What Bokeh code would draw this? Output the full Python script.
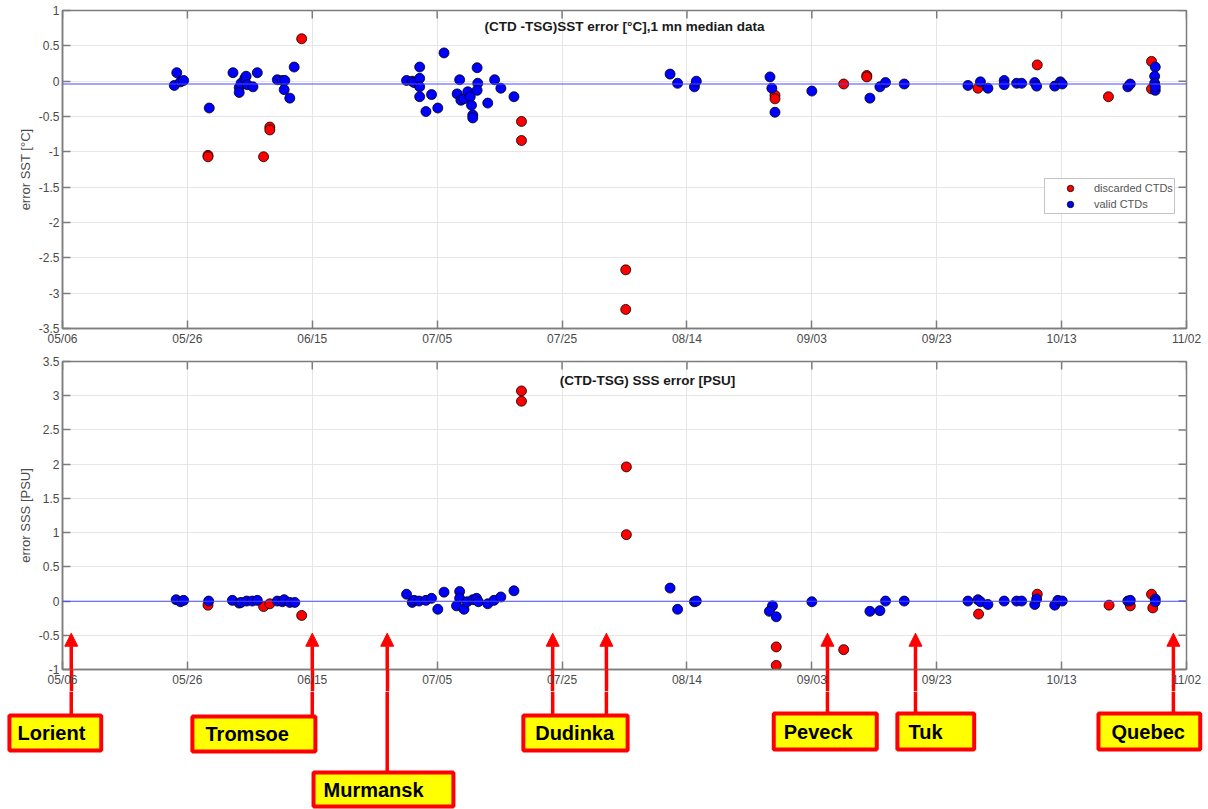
import math
from bokeh.plotting import figure
from bokeh.layouts import column
from bokeh.models import (FixedTicker, PrintfTickFormatter, Span, Label, Arrow,
                          NormalHead, Range1d, Legend, LegendItem)
from bokeh.core.properties import value
from bokeh.embed import file_html
from bokeh.resources import INLINE

# ---------------------------------------------------------------- data
# x axis: days elapsed since 05/06
x_ticks = [0, 20, 40, 60, 80, 100, 120, 140, 160, 180]
x_tick_labels = ["05/06", "05/26", "06/15", "07/05", "07/25",
                 "08/14", "09/03", "09/23", "10/13", "11/02"]

sst_ticks = [-3.5, -3, -2.5, -2, -1.5, -1, -0.5, 0, 0.5, 1]
sss_ticks = [-1, -0.5, 0, 0.5, 1, 1.5, 2, 2.5, 3, 3.5]

# SST error (CTD - TSG), degC
sst_valid_day = [18.3, 17.9, 18.9, 19.4, 23.5, 27.3, 28.3, 28.3, 28.6, 29.2,
                 29.4, 29.6, 30.5, 31.2, 34.4, 35.2, 35.6, 35.5, 36.4, 37.1,
                 55.1, 56.0, 56.3, 57.2, 57.2, 57.2, 57.2, 58.2, 59.1, 60.1,
                 61.1, 63.6, 63.2, 63.8, 64.3, 64.9, 65.3, 65.5, 65.7, 65.7,
                 66.4, 66.5, 66.4, 68.1, 69.2, 70.2, 72.3, 97.3, 98.5, 101.2,
                 101.5, 113.3, 113.6, 114.1, 120.0, 129.3, 130.9, 131.8, 134.8, 145.0,
                 147.0, 148.2, 150.8, 150.8, 152.8, 153.6, 155.7, 156.0, 158.9, 159.8,
                 160.1, 170.6, 171.0, 175.0, 174.9, 174.9, 175.0, 175.0]
sst_valid_err = [0.12, -0.06, -0.01, 0.01, -0.38, 0.12, -0.09, -0.16, -0.03, 0.04,
                 0.07, -0.05, -0.08, 0.12, 0.02, 0.01, 0.01, -0.12, -0.24, 0.20,
                 0.01, 0.00, -0.02, 0.20, 0.04, -0.08, -0.22, -0.43, -0.19, -0.38,
                 0.40, 0.02, -0.18, -0.27, -0.25, -0.15, -0.22, -0.34, -0.48, -0.52,
                 0.19, -0.03, -0.13, -0.31, 0.02, -0.10, -0.22, 0.10, -0.03, -0.08,
                 0.00, 0.06, -0.10, -0.44, -0.14, -0.24, -0.08, -0.02, -0.04, -0.06,
                 -0.01, -0.10, 0.01, -0.05, -0.03, -0.03, -0.02, -0.07, -0.07, -0.01,
                 -0.04, -0.08, -0.04, 0.20, 0.07, -0.03, -0.13, -0.08]
sst_disc_day = [23.3, 23.3, 32.2, 33.2, 33.2, 38.3, 73.5, 73.5, 90.2, 90.2,
                114.1, 114.1, 125.1, 128.8, 128.8, 146.6, 156.1, 167.5, 174.4, 174.4]
sst_disc_err = [-1.05, -1.07, -1.07, -0.65, -0.69, 0.60, -0.57, -0.84, -2.67, -3.23,
                -0.20, -0.25, -0.04, 0.08, 0.06, -0.10, 0.23, -0.22, 0.28, -0.11]

# SSS error (CTD - TSG), PSU
sss_valid_day = [18.2, 18.9, 19.4, 23.4, 27.2, 28.3, 28.6, 29.5, 30.4, 31.2,
                 34.4, 35.2, 35.5, 36.4, 37.2, 55.1, 56.0, 56.3, 57.1, 58.2,
                 59.1, 60.1, 61.1, 63.6, 63.6, 63.1, 64.3, 64.8, 65.7, 66.3,
                 66.6, 68.1, 69.1, 70.2, 72.3, 97.3, 98.5, 101.2, 101.5, 113.7,
                 113.2, 114.3, 120.0, 129.3, 130.9, 131.8, 134.8, 145.0, 146.6, 147.0,
                 148.2, 150.8, 152.8, 153.6, 155.7, 156.0, 158.9, 159.4, 160.1, 170.6,
                 171.0, 175.0, 175.0]
sss_valid_err = [0.02, -0.01, 0.01, 0.00, 0.01, -0.03, -0.02, 0.00, 0.00, 0.01,
                 0.00, -0.01, 0.02, -0.02, -0.02, 0.10, -0.02, 0.01, 0.00, 0.01,
                 0.04, -0.12, 0.13, 0.14, 0.04, -0.07, -0.12, -0.01, 0.02, 0.04,
                 -0.01, -0.04, 0.01, 0.06, 0.15, 0.19, -0.12, -0.01, 0.00, -0.07,
                 -0.15, -0.23, -0.01, -0.15, -0.14, 0.00, 0.00, 0.00, 0.02, -0.01,
                 -0.05, 0.00, 0.00, 0.00, -0.05, 0.03, -0.06, 0.01, 0.00, 0.00,
                 0.01, 0.03, -0.01]
sss_disc_day = [23.3, 32.2, 33.2, 38.3, 73.5, 73.5, 90.3, 90.3, 114.3, 114.3,
                125.1, 146.7, 156.1, 167.6, 171.0, 174.4, 174.6]
sss_disc_err = [-0.06, -0.08, -0.04, -0.21, 3.07, 2.92, 1.96, 0.97, -0.67, -0.94,
                -0.71, -0.19, 0.10, -0.06, -0.07, 0.10, -0.10]

# mean offsets drawn as reference lines
sst_mean = -0.04
sss_mean = -0.003

# port calls (days since 05/06)
ports = ["Lorient", "Tromsoe", "Murmansk", "Dudinka", "Peveck", "Tuk", "Quebec"]
port_days = [[1.4], [40.0], [52.0], [78.5, 87.1], [122.5], [136.6], [177.9]]

# ---------------------------------------------------------------- page geometry / styling
W = 1208
B_LEFT, B_RIGHT = 62, 22
PX_PER_DAY = (W - B_LEFT - B_RIGHT) / 180.0
H_TOP, H_MID, H_TAGS = 350, 341, 118
LABEL_ROW = 22            # height of the date labels under the SSS box

# tag boxes (x in days, y in pixels below the date labels)
tag_x0 = [-8.5, 20.8, 40.2, 73.8, 113.9, 133.7, 165.9]
tag_x1 = [6.2, 40.5, 62.6, 90.5, 130.4, 146.0, 182.2]
tag_y0 = [24, 25, 81, 24, 22, 22, 22]
tag_y1 = [59, 60, 115, 59, 58, 58, 58]
tag_tx = [-7.2, 22.9, 41.8, 75.7, 115.5, 135.5, 168.0]
arrow_tip = -0.47

FONT = "Liberation Sans"
AXC = "#7d7d7d"
TXT = "#4a4a4a"
GRID = "#e6e6e6"
RED = "#ff0000"


def make_panel(y_lo, y_hi, y_ticks, ylabel, height, b_top, b_bottom):
    p = figure(width=W, height=height, x_range=Range1d(0, 180),
               y_range=Range1d(y_lo, y_hi), output_backend="svg",
               toolbar_location=None, min_border_left=B_LEFT,
               min_border_right=B_RIGHT, min_border_top=b_top,
               min_border_bottom=b_bottom)
    p.outline_line_color = AXC
    p.outline_line_width = 1.5
    p.xgrid.ticker = FixedTicker(ticks=x_ticks)
    p.ygrid.ticker = FixedTicker(ticks=y_ticks)
    for g in (p.xgrid[0], p.ygrid[0]):
        g.grid_line_color = GRID
        g.grid_line_width = 1

    xa = p.xaxis[0]
    xa.ticker = FixedTicker(ticks=x_ticks)
    xa.major_label_overrides = dict(zip(x_ticks, x_tick_labels))
    ya = p.yaxis[0]
    ya.ticker = FixedTicker(ticks=y_ticks)
    ya.formatter = PrintfTickFormatter(format="%g")
    ya.axis_label = ylabel
    ya.axis_label_text_font = FONT
    ya.axis_label_text_font_style = "normal"
    ya.axis_label_text_font_size = "13px"
    ya.axis_label_text_color = TXT
    ya.axis_label_standoff = 3
    for ax in (xa, ya):
        ax.axis_line_color = AXC
        ax.axis_line_width = 1.5
        ax.major_tick_line_color = AXC
        ax.major_tick_line_width = 1.5
        ax.major_tick_in = 8
        ax.major_tick_out = 0
        ax.minor_tick_line_color = None
        ax.major_label_text_font = FONT
        ax.major_label_text_font_size = "12px"
        ax.major_label_text_color = TXT
        ax.major_label_standoff = 3

    # inward tick marks on the top and right sides of the box
    p.ray(x=x_ticks, y=[y_hi] * len(x_ticks), length=8, length_units="screen",
          angle=-math.pi / 2, line_color=AXC, line_width=1.5)
    p.ray(x=[180] * len(y_ticks), y=y_ticks, length=8, length_units="screen",
          angle=math.pi, line_color=AXC, line_width=1.5)
    return p


def add_points(p, vd, ve, dd, de, mean):
    r_d = p.scatter(dd, de, size=10, fill_color=RED, line_color="black",
                    line_width=0.8)
    r_v = p.scatter(vd, ve, size=10, fill_color="#0000ff", line_color="black",
                    line_width=0.8)
    p.add_layout(Span(location=mean, dimension="width", line_color="#4d4dff",
                      line_width=1.2))
    return r_d, r_v


# ---------------------------------------------------------------- SST panel
p1 = make_panel(-3.5, 1, sst_ticks, "error SST [°C]", H_TOP, 10, 22)
rd1, rv1 = add_points(p1, sst_valid_day, sst_valid_err, sst_disc_day, sst_disc_err, sst_mean)
p1.add_layout(Label(x=90, y=0.77, text="(CTD -TSG)SST error [°C],1 mn median data",
                    text_align="center", text_baseline="middle",
                    text_font=FONT, text_font_style="bold",
                    text_font_size="13.5px", text_color="#1a1a1a"))
legend = Legend(items=[LegendItem(label="discarded CTDs", renderers=[rd1]),
                       LegendItem(label="valid CTDs", renderers=[rv1])],
                location=(982, 114), label_text_font=FONT,
                label_text_font_size="11px", label_text_color="#555555",
                border_line_color="#8a8a8a", border_line_width=1,
                padding=1, spacing=0, margin=0, label_height=16,
                glyph_height=16, glyph_width=48, label_standoff=0,
                background_fill_color="white")
p1.add_layout(legend)

# ---------------------------------------------------------------- SSS panel
p2 = make_panel(-1, 3.5, sss_ticks, "error SSS [PSU]", H_MID, 11, LABEL_ROW)
add_points(p2, sss_valid_day, sss_valid_err, sss_disc_day, sss_disc_err, sss_mean)
p2.add_layout(Label(x=93.7, y=3.22, text="(CTD-TSG) SSS error [PSU]",
                    text_align="center", text_baseline="middle",
                    text_font=FONT, text_font_style="bold",
                    text_font_size="13.5px", text_color="#1a1a1a"))

all_port_days = [d for days in port_days for d in days]
for d in all_port_days:
    p2.add_layout(Arrow(x_start=d, y_start=-1, x_end=d, y_end=arrow_tip,
                        line_color=RED, line_width=3.5,
                        end=NormalHead(size=13, fill_color=RED, line_color=RED)))
# the arrows continue through the date-label row as long red minor ticks;
# the labels are pulled back up so they sit right under the box
xa2 = p2.xaxis[0]
xa2.ticker = FixedTicker(ticks=x_ticks, minor_ticks=all_port_days)
xa2.minor_tick_line_color = RED
xa2.minor_tick_line_width = 3.5
xa2.minor_tick_in = 0
xa2.minor_tick_out = LABEL_ROW
xa2.major_label_standoff = 3 - LABEL_ROW

# ---------------------------------------------------------------- port tags
p3 = figure(width=W, height=H_TAGS,
            x_range=Range1d(-B_LEFT / PX_PER_DAY, 180 + B_RIGHT / PX_PER_DAY),
            y_range=Range1d(H_TAGS, 0), output_backend="svg",
            toolbar_location=None, x_axis_type=None, y_axis_type=None,
            min_border=0, outline_line_color=None)
p3.grid.visible = False

for days, y0 in zip(port_days, tag_y0):
    p3.segment(x0=days, y0=[0] * len(days), x1=days, y1=[y0] * len(days),
               line_color=RED, line_width=3.5)
p3.quad(left=tag_x0, right=tag_x1, top=tag_y0, bottom=tag_y1,
        fill_color="#ffff00", line_color=RED, line_width=4)
p3.text(x=tag_tx, y=[(a + b) / 2 for a, b in zip(tag_y0, tag_y1)], text=ports,
        text_font=value(FONT), text_font_style="bold", text_font_size="20px",
        text_color="black", text_baseline="middle", text_align="left")

layout = column(column(p1, p2, spacing=0), p3, spacing=0)
open("out.html", "w").write(file_html(layout, INLINE))
